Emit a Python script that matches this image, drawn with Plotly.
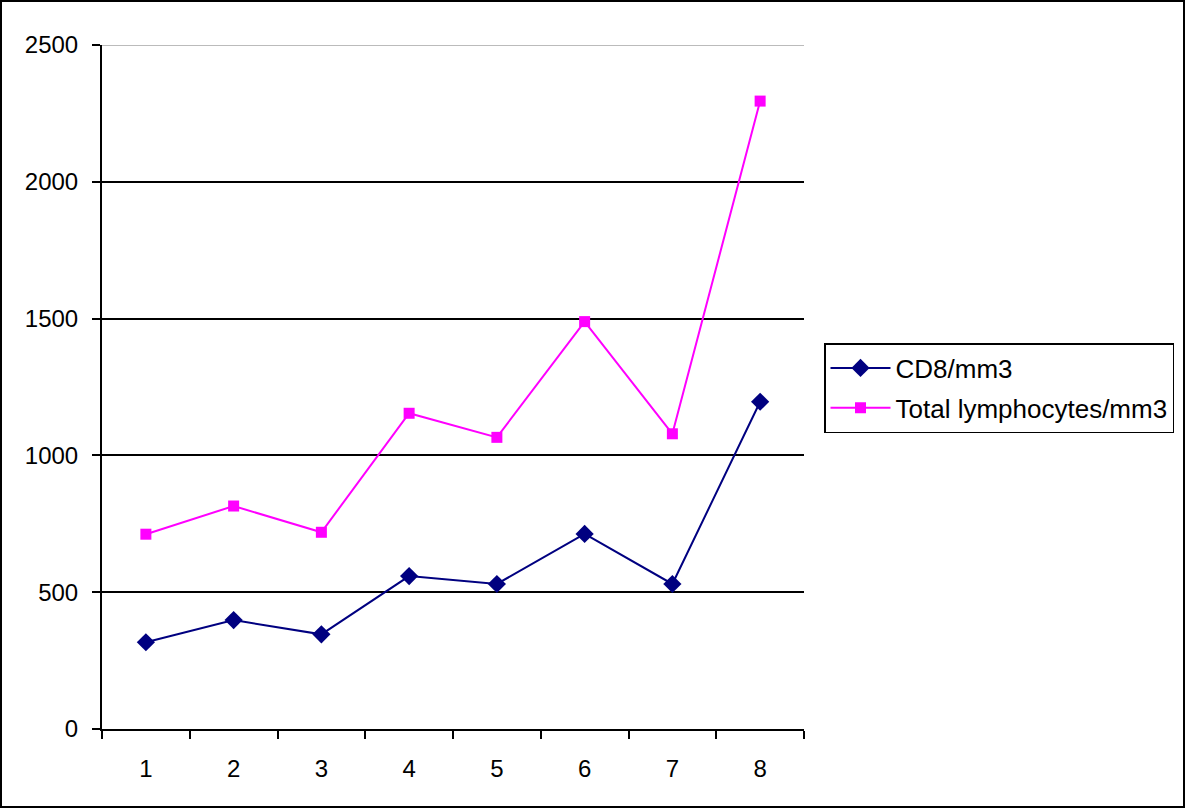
import plotly.graph_objects as go

categories = [1, 2, 3, 4, 5, 6, 7, 8]
cd8 = [317, 398, 346, 559, 530, 713, 530, 1196]
total_lymph = [712, 815, 719, 1154, 1066, 1489, 1079, 2295]
y_ticks = [0, 500, 1000, 1500, 2000, 2500]

W, H = 1187, 809
L, R, T, B = 102, 383, 45, 80
pw, ph = W - L - R, H - T - B

def px2paper_x(px):
    return (px - L) / pw

def px2paper_y(py):
    return (H - B - py) / ph

fig = go.Figure()
fig.add_trace(go.Scatter(
    x=categories, y=cd8, name="CD8/mm3", mode="lines+markers",
    legendgroup="a",
    line=dict(color="#000080", width=2),
    marker=dict(symbol="diamond", size=14, color="#000080"),
))
fig.add_trace(go.Scatter(
    x=categories, y=total_lymph, name="Total lymphocytes/mm3", mode="lines+markers",
    legendgroup="b",
    line=dict(color="#FF00FF", width=2),
    marker=dict(symbol="square", size=11, color="#FF00FF"),
))

font_family = "Liberation Sans, Arial, sans-serif"

fig.update_layout(
    width=W, height=H,
    margin=dict(l=L, r=R, t=T, b=B, pad=0),
    paper_bgcolor="white", plot_bgcolor="white",
    font=dict(family=font_family, size=24, color="black"),
    showlegend=True,
    legend=dict(
        x=px2paper_x(824), y=px2paper_y(343), xanchor="left", yanchor="top",
        bordercolor="black", borderwidth=1.5, bgcolor="white",
        font=dict(size=26, family=font_family), itemwidth=60,
        traceorder="grouped", tracegroupgap=3,
    ),
    xaxis=dict(
        range=[0.5, 8.5], tickvals=categories, ticktext=[str(c) for c in categories],
        ticks="", showgrid=False, zeroline=False,
        showline=True, linecolor="black", linewidth=2,
        ticklabelstandoff=17,
        minor=dict(ticks="outside", tick0=0.5, dtick=1, ticklen=8,
                   tickcolor="black", tickwidth=2, showgrid=False),
        fixedrange=True,
    ),
    yaxis=dict(
        range=[0, 2500], tickvals=y_ticks, ticks="outside", ticklen=8,
        tickcolor="black", tickwidth=2,
        showgrid=True, gridcolor="black", gridwidth=1.5, zeroline=False,
        showline=True, linecolor="black", linewidth=2,
        ticklabelstandoff=9,
        fixedrange=True,
    ),
    shapes=[
        dict(type="line", xref="paper", yref="y", x0=0, x1=1, y0=y_ticks[-1], y1=y_ticks[-1],
             line=dict(color="#BBBBBB", width=2), layer="above"),
        dict(type="rect", xref="paper", yref="paper",
             x0=px2paper_x(1), x1=px2paper_x(1184), y0=px2paper_y(807), y1=px2paper_y(1),
             line=dict(color="black", width=2), layer="above"),
    ],
)

fig.write_html("out.html", config={"displayModeBar": False},
               post_script="document.body.style.margin='0';document.body.style.padding='0';")
